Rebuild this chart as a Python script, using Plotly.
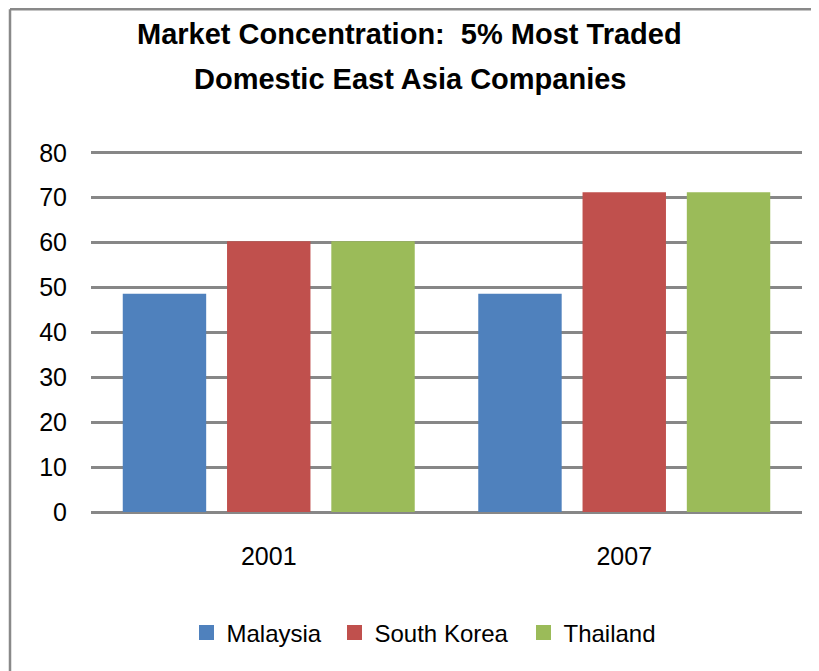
import plotly.graph_objects as go

years = ["2001", "2007"]
malaysia = [48.6, 48.6]
south_korea = [60.3, 71.2]
thailand = [60.3, 71.2]
series_names = ["Malaysia", "South Korea", "Thailand"]
series_colors = ["#4F81BD", "#C0504D", "#9BBB59"]
legend_widths = [103, 144, 95]
y_ticks = [0, 10, 20, 30, 40, 50, 60, 70, 80]
title_lines = ["Market Concentration:  5% Most Traded", "Domestic East Asia Companies"]

# page has an 8px body margin; size the figure to fill the rest of the window
OFF = 8
W, H = 819 - OFF, 671 - OFF
Y_MAX = 80.4
# plot area in page pixels: x 91..802, y ~151..511.7 (80 gridline at 152.7)
ML, MR, MT, MB = 91 - OFF, 819 - 802, 151 - OFF, 671 - 512
PW, PH = W - ML - MR, H - MT - MB


def px_x(px):
    return (px - OFF - ML) / PW


def px_y(py):
    return (H - MB - (py - OFF)) / PH


fig = go.Figure()
for name, vals, col in zip(series_names, [malaysia, south_korea, thailand], series_colors):
    fig.add_trace(go.Bar(x=years, y=vals, name=name, showlegend=False,
                         marker=dict(color=col, line=dict(width=0))))
# legend entries with larger square swatches
for name, col, lw in zip(series_names, series_colors, legend_widths):
    fig.add_trace(go.Scatter(x=[None], y=[None], mode="markers", name=name, legendwidth=lw,
                             marker=dict(symbol="square", size=15, color=col)))

font_family = "Liberation Sans, Arial, sans-serif"

annotations = []
for line, cy in zip(title_lines, [34, 78.5]):
    annotations.append(dict(
        text="<b>" + line + "</b>", xref="paper", yref="paper",
        x=px_x(409.5), y=px_y(cy), xanchor="center", yanchor="middle",
        showarrow=False, font=dict(family=font_family, size=29, color="#000000")))

fig.update_layout(
    width=W, height=H,
    margin=dict(l=ML, r=MR, t=MT, b=MB, pad=0, autoexpand=False),
    paper_bgcolor="#FFFFFF", plot_bgcolor="#FFFFFF",
    barmode="group", bargap=0.12, bargroupgap=0.2,
    font=dict(family=font_family, size=25, color="#000000"),
    showlegend=True,
    legend=dict(orientation="h", x=px_x(425), xanchor="center",
                y=px_y(633), yanchor="middle", font=dict(size=24),
                itemwidth=30, traceorder="normal", bgcolor="rgba(0,0,0,0)"),
    annotations=annotations,
    shapes=[
        dict(type="line", xref="paper", yref="paper", x0=px_x(10), x1=px_x(830), y0=px_y(9.3), y1=px_y(9.3),
             line=dict(color="#898989", width=2.5), layer="above"),
        dict(type="line", xref="paper", yref="paper", x0=px_x(10), x1=px_x(10), y0=px_y(9.3), y1=px_y(690),
             line=dict(color="#898989", width=2.5), layer="above"),
    ],
)
fig.update_xaxes(showgrid=False, showline=False, zeroline=False, ticks="",
                 ticklabelstandoff=27, tickfont=dict(size=25))
fig.update_yaxes(range=[0, Y_MAX], tickvals=y_ticks, showgrid=True, gridcolor="#878787", gridwidth=3,
                 zeroline=True, zerolinecolor="#878787", zerolinewidth=3, showline=False,
                 ticks="", ticklabelstandoff=23, tickfont=dict(size=25))

fig.write_html("out.html")
